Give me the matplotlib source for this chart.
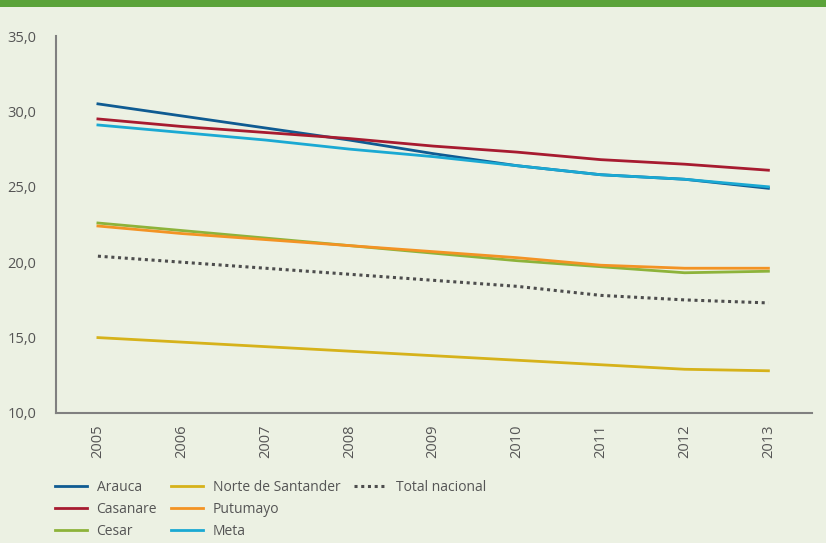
import matplotlib as mpl
mpl.use('Agg')
import matplotlib.pyplot as plt
import matplotlib.patches as patches
from matplotlib.lines import Line2D
from matplotlib.ticker import FuncFormatter

# datos
years = [2005, 2006, 2007, 2008, 2009, 2010, 2011, 2012, 2013]
arauca = [30.5, 29.7, 28.9, 28.1, 27.2, 26.4, 25.8, 25.5, 24.9]
casanare = [29.5, 29.0, 28.6, 28.2, 27.7, 27.3, 26.8, 26.5, 26.1]
cesar = [22.6, 22.1, 21.6, 21.1, 20.6, 20.1, 19.7, 19.3, 19.4]
norte = [15.0, 14.7, 14.4, 14.1, 13.8, 13.5, 13.2, 12.9, 12.8]
putumayo = [22.4, 21.9, 21.5, 21.1, 20.7, 20.3, 19.8, 19.6, 19.6]
meta = [29.1, 28.6, 28.1, 27.5, 27.0, 26.4, 25.8, 25.5, 25.0]
total = [20.4, 20.0, 19.6, 19.2, 18.8, 18.4, 17.8, 17.5, 17.3]

bg = '#ecf1e3'
mpl.rc('font', family=['Open Sans', 'DejaVu Sans'], size=10)

fig = plt.figure(figsize=(8.26, 5.43), dpi=100)
fig.patch.set_facecolor(bg)

# barra verde de cabecera
fig.add_artist(patches.Rectangle((0, 1 - 7/543), 1, 7/543, transform=fig.transFigure,
                                 facecolor='#5ba33a', edgecolor='none'))

ax = fig.add_axes([56/826, 1 - 413/543, (812 - 56)/826, (413 - 36)/543])
ax.set_facecolor(bg)

lw = 2.0
lines = []
lines += ax.plot(years, arauca, color='#0f5b92', lw=lw, label='Arauca')
lines += ax.plot(years, casanare, color='#a71b30', lw=lw, label='Casanare')
lines += ax.plot(years, cesar, color='#8db33a', lw=lw, label='Cesar')
lines += ax.plot(years, norte, color='#d6b21a', lw=lw, label='Norte de Santander')
lines += ax.plot(years, putumayo, color='#f39324', lw=lw, label='Putumayo')
lines += ax.plot(years, meta, color='#1aa9d3', lw=lw, label='Meta')
lines += ax.plot(years, total, color='#4d4d4d', lw=2.2, linestyle=(0, (1, 1.2)), label='Total nacional')

ax.set_xlim(2004.5, 2013.52)
ax.set_ylim(10, 35)
ax.set_yticks([10, 15, 20, 25, 30, 35])
ax.yaxis.set_major_formatter(FuncFormatter(lambda v, p: ('%.1f' % v).replace('.', ',')))
ax.set_xticks(years)
ax.set_xticklabels([str(y) for y in years], rotation=90)

for s in ['top', 'right']:
    ax.spines[s].set_visible(False)
for s in ['left', 'bottom']:
    ax.spines[s].set_color('#808080')
    ax.spines[s].set_linewidth(1.5)

ax.tick_params(axis='both', length=0, colors='#555555', labelsize=10.5)
ax.tick_params(axis='y', pad=14)
ax.tick_params(axis='x', pad=8)

# relleno para que la leyenda quede 3-3-1 por columnas
blank = Line2D([], [], color='none')
handles = lines + [blank, blank]
labels = [l.get_label() for l in lines] + ['', '']
leg = ax.legend(handles, labels, loc='upper left', bbox_to_anchor=(-0.018, -0.145), ncol=3,
                frameon=False, handlelength=2.3, handletextpad=0.7, columnspacing=1.0,
                labelspacing=0.5, fontsize=10)
for t in leg.get_texts():
    t.set_color('#555555')

fig.savefig('out.png', dpi=100, facecolor=bg)
